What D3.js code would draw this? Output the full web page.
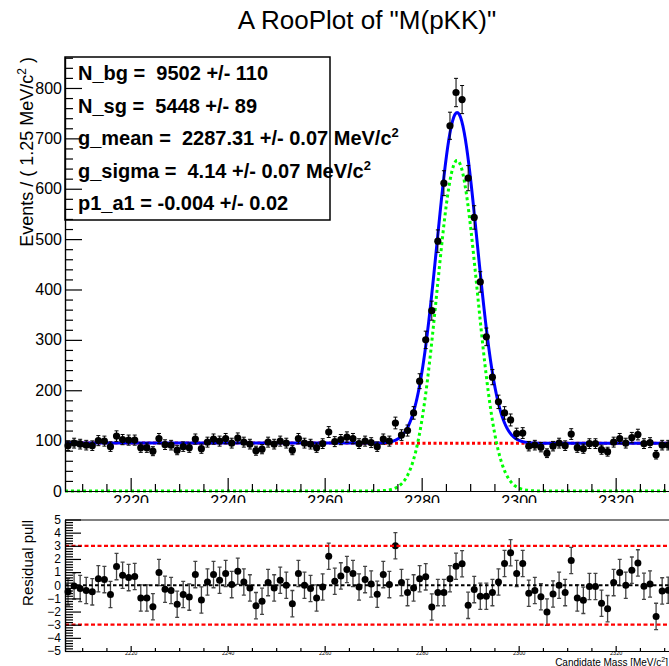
<!DOCTYPE html>
<html>
<head>
<meta charset="utf-8">
<script src="https://cdn.jsdelivr.net/npm/d3@7"></script>
<style>
  body { margin: 0; background: #fff; }
  svg { display: block; }
</style>
</head>
<body>
<svg id="canvas" width="669" height="666"></svg>
<script>
// ---- data ----
var massLo = 2206.46, massHi = 2331.46, binWidth = 1.25;

var counts = [90, 95, 93, 91, 90, 100, 99, 88, 109, 102,
  101, 101, 86, 86, 79, 104, 92, 91, 81, 88,
  86, 103, 84, 97, 103, 99, 104, 95, 105, 97,
  93, 80, 83, 97, 93, 99, 95, 81, 104, 95,
  93, 86, 94, 117, 98, 102, 107, 104, 94, 99,
  96, 88, 103, 99, 135, 111, 120, 155, 218, 300,
  358, 496, 611, 725, 791, 777, 621, 543, 415, 306,
  226, 177, 155, 141, 114, 115, 89, 91, 87, 75,
  89, 95, 90, 113, 86, 84, 94, 94, 82, 78,
  97, 104, 95, 106, 112, 94, 96, 72, 91, 91];

var pulls = [-0.5, -0.05, -0.25, -0.4, -0.5, 0.5, 0.43, -0.7, 1.42, 0.76,
  0.58, 0.66, -0.97, -0.97, -1.63, 0.97, -0.3, -0.4, -1.45, -0.7,
  -0.9, 0.81, -1.12, 0.25, 0.81, 0.38, 0.89, 0.05, 1.07, 0.25,
  -0.2, -1.55, -1.22, 0.2, -0.2, 0.38, 0, -1.4, 0.89, 0,
  -0.25, -0.97, -0.13, 2.21, 0.3, 0.71, 1.2, 0.89, -0.13, 0.43,
  0.1, -0.69, 0.81, 0.05, 3.0, 0.2, -0.56, -0.2, 0.5, 0.64,
  -1.65, -0.56, -0.56, 0.5, 1.45, 1.63, -1.53, -0.33, -0.84, -0.84,
  -0.56, 0.25, 1.65, 2.47, 0.89, 1.65, -0.61, -0.4, -0.87, -2.04,
  -0.66, 0, -0.56, 1.88, -0.97, -1.15, -0.1, -0.1, -1.37, -1.78,
  0.2, 0.97, 0, 1.15, 1.7, -0.08, 0.1, -2.37, -0.43, -0.38];

// fit result shown in the box
var nBg = 9502, nSg = 5448, gMean = 2287.31, gSigma = 4.14, p1a1 = -0.004;
var statLines = [
  ["N_bg =\u00a0 9502 +/- 110", ""],
  ["N_sg =\u00a0 5448 +/- 89", ""],
  ["g_mean =\u00a0 2287.31 +/- 0.07 MeV/c", "2"],
  ["g_sigma =\u00a0 4.14 +/- 0.07 MeV/c", "2"],
  ["p1_a1 = -0.004 +/- 0.02", ""]
];

var xTicks = [2220, 2240, 2260, 2280, 2300, 2320];
var yTicks = [0, 100, 200, 300, 400, 500, 600, 700, 800];
var pullTicks = [-5, -4, -3, -2, -1, 0, 1, 2, 3, 4, 5];

var FONT = '"Liberation Sans", Arial, Helvetica, sans-serif';

var svg = d3.select('#canvas');
svg.append('rect').attr('width', 669).attr('height', 666).attr('fill', '#fff');

var x = d3.scaleLinear().domain([massLo, massHi]).range([65, 671.25]);
var y = d3.scaleLinear().domain([0, 861.5]).range([491, 57]);
var yp = d3.scaleLinear().domain([-5, 5]).range([651, 519.5]);

var bins = counts.map(function(n, i){
  return { m: massLo + binWidth * (i + 0.5), n: n, pull: pulls[i] };
});

// model curves from the fitted parameters
function bkgAt(m){
  var t = 2 * (m - massLo) / (massHi - massLo) - 1;
  return nBg * binWidth / (massHi - massLo) * (1 + p1a1 * t);
}
function sigAt(m){
  var z = (m - gMean) / gSigma;
  return nSg * binWidth / (gSigma * Math.sqrt(2 * Math.PI)) * Math.exp(-0.5 * z * z);
}
var grid = d3.range(massLo, massHi + 0.001, 0.05);
var line = d3.line().x(function(d){ return x(d[0]); }).y(function(d){ return y(d[1]); });

var main = svg.append('g');
main.append('path')
  .attr('d', line(grid.map(function(m){ return [m, bkgAt(m)]; })))
  .attr('fill', 'none').attr('stroke', '#ff0000').attr('stroke-width', 3)
  .attr('stroke-dasharray', '3,2.5');
main.append('path')
  .attr('d', line(grid.map(function(m){ return [m, sigAt(m)]; })))
  .attr('fill', 'none').attr('stroke', '#00ff00').attr('stroke-width', 3)
  .attr('stroke-dasharray', '3,3');
main.append('path')
  .attr('d', line(grid.map(function(m){ return [m, bkgAt(m) + sigAt(m)]; })))
  .attr('fill', 'none').attr('stroke', '#0000ff').attr('stroke-width', 3);

// data points
var pts = main.append('g').selectAll('g').data(bins).enter().append('g');
pts.append('line')
  .attr('x1', function(d){ return x(d.m); }).attr('x2', function(d){ return x(d.m); })
  .attr('y1', function(d){ return y(d.n + Math.sqrt(d.n)); })
  .attr('y2', function(d){ return y(d.n - Math.sqrt(d.n)); })
  .attr('stroke', '#000').attr('stroke-width', 1);
pts.append('path')
  .attr('d', function(d){
    var cx = x(d.m), t = y(d.n + Math.sqrt(d.n)), b = y(d.n - Math.sqrt(d.n));
    return 'M' + (cx - 2) + ',' + t + 'H' + (cx + 2) + 'M' + (cx - 2) + ',' + b + 'H' + (cx + 2);
  })
  .attr('stroke', '#000').attr('stroke-width', 1);
pts.append('circle')
  .attr('cx', function(d){ return x(d.m); })
  .attr('cy', function(d){ return y(d.n); })
  .attr('r', 3.6).attr('fill', '#000');

// stats box
main.append('rect').attr('x', 65).attr('y', 57).attr('width', 265).attr('height', 163)
  .attr('fill', '#fff').attr('stroke', '#000').attr('stroke-width', 1.5);
var st = main.append('g').attr('font-family', FONT).attr('font-weight', 'bold')
  .attr('font-size', 20);
statLines.forEach(function(s, i){
  var t = st.append('text').attr('x', 78).attr('y', 80 + i * 32.6);
  t.append('tspan').text(s[0]);
  if (s[1]) t.append('tspan').attr('dy', -8).attr('font-size', 13).text(s[1]);
});

// axes of the main frame
function styleAxis(g, size){
  g.attr('font-family', FONT).attr('font-size', size);
  g.selectAll('line').attr('stroke', '#000').attr('stroke-width', 1.2);
  g.selectAll('path.domain').attr('stroke', '#000').attr('stroke-width', 1.2);
  g.selectAll('text').attr('fill', '#000');
}
var minorY = d3.range(0, 861, 20).filter(function(v){ return v % 100 !== 0; });
var gy = main.append('g').attr('transform', 'translate(65,0)')
  .call(d3.axisLeft(y).tickValues(yTicks).tickSize(-17).tickSizeOuter(0).tickPadding(3));
styleAxis(gy, 16);
var gym = main.append('g').attr('transform', 'translate(65,0)')
  .call(d3.axisLeft(y).tickValues(minorY).tickSize(-8).tickSizeOuter(0).tickFormat(''));
styleAxis(gym, 16);

var minorX = d3.range(2210, 2335, 5).filter(function(v){ return v % 20 !== 0; });
var gx = main.append('g').attr('transform', 'translate(0,491)')
  .call(d3.axisBottom(x).tickValues(xTicks).tickSize(-13).tickSizeOuter(0).tickPadding(5).tickFormat(d3.format('d')));
styleAxis(gx, 16);
var gxm = main.append('g').attr('transform', 'translate(0,491)')
  .call(d3.axisBottom(x).tickValues(minorX).tickSize(-7).tickSizeOuter(0).tickFormat(''));
styleAxis(gxm, 16);

// title and y title
svg.append('text').attr('x', 367).attr('y', 29).attr('text-anchor', 'middle')
  .attr('font-family', FONT).attr('font-size', 26).text('A RooPlot of "M(pKK)"');
var yt = svg.append('text').attr('transform', 'translate(33,57) rotate(-90)')
  .attr('text-anchor', 'end').attr('font-family', FONT).attr('font-size', 18);
yt.append('tspan').text('Events / ( 1.25 MeV/c');
yt.append('tspan').attr('dy', -7).attr('font-size', 12).text('2');
yt.append('tspan').attr('dy', 7).text('\u00a0)');

// ---- pull pad ----
var pad = svg.append('g');
pad.append('rect').attr('x', 0).attr('y', 503).attr('width', 669).attr('height', 163).attr('fill', '#fff');
pad.append('line').attr('x1', 65).attr('x2', 669).attr('y1', 520).attr('y2', 520)
  .attr('stroke', '#808080').attr('stroke-width', 2);

var pp = pad.append('g').selectAll('g').data(bins).enter().append('g');
pp.append('line')
  .attr('x1', function(d){ return x(d.m); }).attr('x2', function(d){ return x(d.m); })
  .attr('y1', function(d){ return yp(d.pull + 1); })
  .attr('y2', function(d){ return yp(d.pull - 1); })
  .attr('stroke', '#444').attr('stroke-width', 1.3);
pp.append('path')
  .attr('d', function(d){
    var cx = x(d.m), t = yp(d.pull + 1), b = yp(d.pull - 1);
    return 'M' + (cx - 2) + ',' + t + 'H' + (cx + 2) + 'M' + (cx - 2) + ',' + b + 'H' + (cx + 2);
  })
  .attr('stroke', '#444').attr('stroke-width', 1.3);
pp.append('circle')
  .attr('cx', function(d){ return x(d.m); })
  .attr('cy', function(d){ return yp(d.pull); })
  .attr('r', 3.5).attr('fill', '#000');

[[0, '#000', '3.5,2.5'], [3, '#ff0000', '4,2.5'], [-3, '#ff0000', '4,2.5']].forEach(function(l){
  pad.append('line').attr('x1', 65).attr('x2', 669)
    .attr('y1', yp(l[0])).attr('y2', yp(l[0]))
    .attr('stroke', l[1]).attr('stroke-width', 2.2).attr('stroke-dasharray', l[2]);
});

var gpy = pad.append('g').attr('transform', 'translate(65,0)')
  .call(d3.axisLeft(yp).tickValues(pullTicks).tickSize(-16).tickSizeOuter(0).tickPadding(4));
styleAxis(gpy, 12);
var minorP = d3.range(-50, 51, 2).filter(function(v){ return v % 10 !== 0; }).map(function(v){ return v / 10; });
var gpym = pad.append('g').attr('transform', 'translate(65,0)')
  .call(d3.axisLeft(yp).tickValues(minorP).tickSize(-8).tickSizeOuter(0).tickFormat(''));
styleAxis(gpym, 12);

var gpx = pad.append('g').attr('transform', 'translate(0,651)')
  .call(d3.axisBottom(x).tickValues(xTicks).tickSize(-5).tickSizeOuter(0).tickPadding(0).tickFormat(d3.format('d')));
styleAxis(gpx, 5.5);
var gpxm = pad.append('g').attr('transform', 'translate(0,651)')
  .call(d3.axisBottom(x).tickValues(minorX).tickSize(-3).tickSizeOuter(0).tickFormat(''));
styleAxis(gpxm, 6);

pad.append('text').attr('transform', 'translate(33,520) rotate(-90)')
  .attr('text-anchor', 'end').attr('font-family', FONT).attr('font-size', 15)
  .text('Residual pull');
var xt = pad.append('text').attr('x', 668).attr('y', 665.5).attr('text-anchor', 'end')
  .attr('font-family', FONT).attr('font-size', 10);
xt.append('tspan').text('Candidate Mass [MeV/c');
xt.append('tspan').attr('dy', -4).attr('font-size', 7).text('2');
xt.append('tspan').attr('dy', 4).text(']');
</script>
</body>
</html>
